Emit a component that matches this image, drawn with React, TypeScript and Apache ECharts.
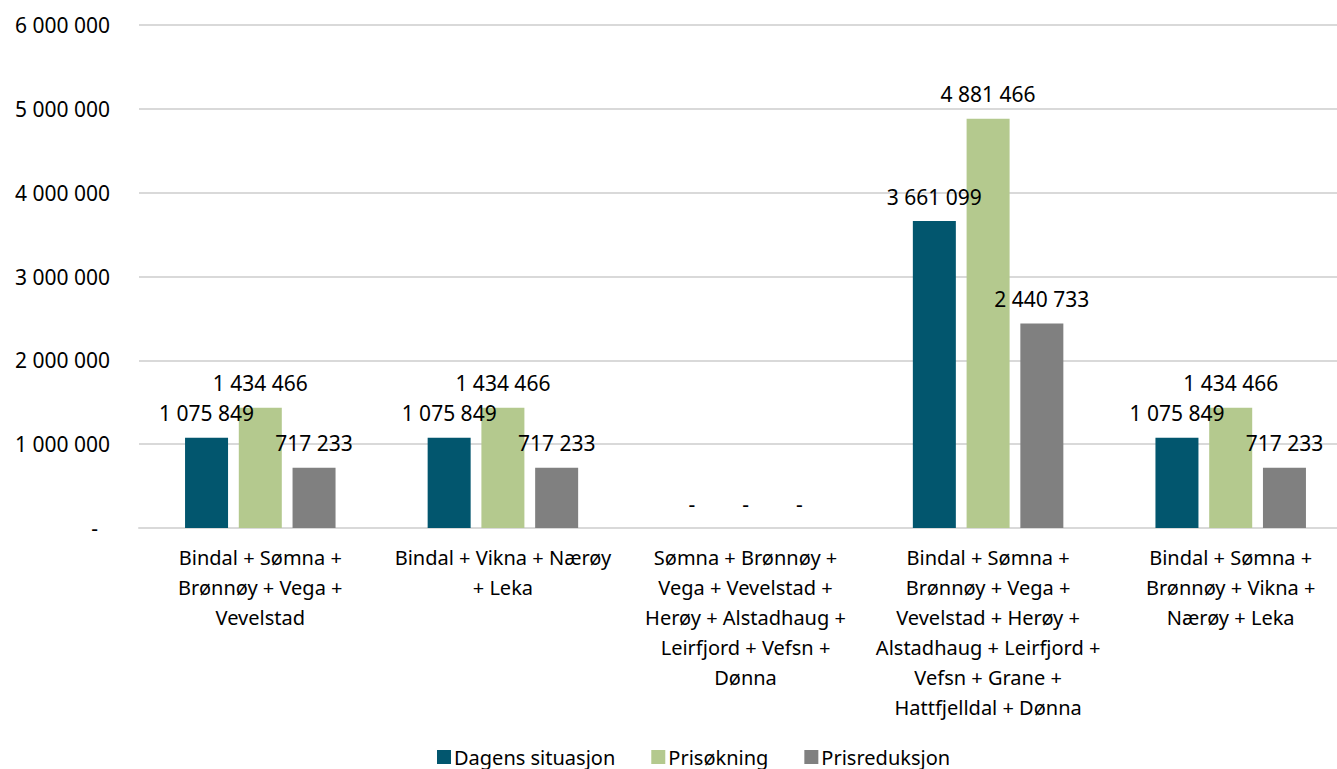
import React, { useEffect, useRef } from "react";
import * as echarts from "echarts";

const categories = [
  "Bindal + Sømna +\nBrønnøy + Vega +\nVevelstad",
  "Bindal + Vikna + Nærøy\n+ Leka",
  "Sømna + Brønnøy +\nVega + Vevelstad +\nHerøy + Alstadhaug +\nLeirfjord + Vefsn +\nDønna",
  "Bindal + Sømna +\nBrønnøy + Vega +\nVevelstad + Herøy +\nAlstadhaug + Leirfjord +\nVefsn + Grane +\nHattfjelldal + Dønna",
  "Bindal + Sømna +\nBrønnøy + Vikna +\nNærøy + Leka",
];
const seriesNames = ["Dagens situasjon", "Prisøkning", "Prisreduksjon"];
const dagens = [1075849, 1075849, 0, 3661099, 1075849];
const prisokning = [1434466, 1434466, 0, 4881466, 1434466];
const prisreduksjon = [717233, 717233, 0, 2440733, 717233];
const colors = ["#02566e", "#b4c98e", "#808080"];

const fmt = (v: number) =>
  v === 0 ? "-" : String(Math.round(v)).replace(/\B(?=(\d{3})+(?!\d))/g, " ");

const FONT = "'Noto Sans', sans-serif";

export default function App() {
  const ref = useRef<HTMLDivElement>(null);
  useEffect(() => {
    if (!ref.current) return;
    const chart = echarts.init(ref.current, undefined, { renderer: "svg" });
    const data = [dagens, prisokning, prisreduksjon];
    chart.setOption({
      animation: false,
      textStyle: { fontFamily: FONT },
      grid: { left: 139, right: 0, top: 25, bottom: 241 },
      legend: {
        bottom: -3,
        left: 432,
        itemWidth: 14,
        itemHeight: 14,
        itemGap: 36,
        icon: "rect",
        textStyle: { fontSize: 20, color: "#000", fontFamily: FONT, padding: [0, 0, 0, -2] },
        data: seriesNames,
      },
      xAxis: {
        type: "category",
        data: categories,
        axisLine: { lineStyle: { color: "#d9d9d9", width: 2 } },
        axisTick: { show: false },
        axisLabel: {
          interval: 0,
          color: "#000",
          fontSize: 20,
          lineHeight: 30,
          margin: 14,
          fontFamily: FONT,
        },
      },
      yAxis: {
        type: "value",
        min: 0,
        max: 6000000,
        interval: 1000000,
        axisLine: { show: false },
        axisTick: { show: false },
        splitLine: { lineStyle: { color: "#d9d9d9", width: 2 } },
        axisLabel: {
          color: "#000",
          fontSize: 21,
          margin: 29,
          fontFamily: FONT,
          formatter: (v: number) => (v === 0 ? "{z|-}" : fmt(v)),
          rich: { z: { fontSize: 21, fontFamily: FONT, color: "#000", padding: [0, 12, 0, 0] } },
        },
      },
      series: seriesNames.map((name, i) => ({
        name,
        type: "bar",
        data: data[i],
        barWidth: 43,
        barGap: "25%",
        itemStyle: { color: colors[i] },
        label: {
          show: true,
          position: "top",
          distance: 14,
          color: "#000",
          fontSize: 21,
          fontFamily: FONT,
          formatter: (p: any) => fmt(p.value),
        },
      })),
    });
    return () => chart.dispose();
  }, []);
  return (
    <div
      style={{
        position: "fixed",
        left: 0,
        top: 0,
        width: 1337,
        height: 769,
        overflow: "hidden",
        background: "#fff",
      }}
    >
      <div ref={ref} style={{ width: 1352, height: 769 }} />
    </div>
  );
}
